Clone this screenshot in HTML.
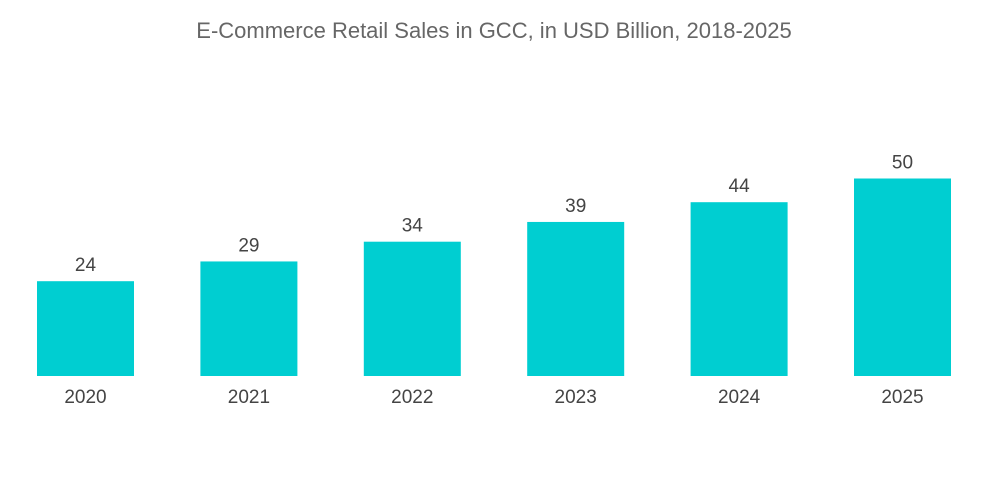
<!DOCTYPE html>
<html><head><meta charset="utf-8"><style>
body{margin:0;background:#fff;font-family:"Liberation Sans",sans-serif;}
svg{display:block}
</style></head><body>
<svg id="chart" width="1000" height="504">
<text x="494" y="38" text-anchor="middle" font-size="22" fill="#666">E-Commerce Retail Sales in GCC, in USD Billion, 2018-2025</text>
<g id="bars"></g>
</svg>
<script>
const categories=["2020","2021","2022","2023","2024","2025"];
const values=[24,29,34,39,44,50];
const valueLabels=["24","29","34","39","44","50"];
const baseY=376, scale=3.95, x0=37, step=163.4, bw=97;
function xPos(i){return x0+i*step;}
function yPos(v){return baseY-v*scale;}
const g=document.getElementById('bars');
const ns="http://www.w3.org/2000/svg";
categories.forEach((c,i)=>{
  const r=document.createElementNS(ns,'rect');
  r.setAttribute('x',xPos(i));r.setAttribute('y',yPos(values[i]));
  r.setAttribute('width',bw);r.setAttribute('height',baseY-yPos(values[i]));
  r.setAttribute('fill','#00ced1');
  
  
  g.appendChild(r);
  const t=document.createElementNS(ns,'text');
  t.setAttribute('x',xPos(i)+bw/2);t.setAttribute('y',yPos(values[i])-10);
  t.setAttribute('text-anchor','middle');t.setAttribute('font-size','19');t.setAttribute('fill','#444');
  t.textContent=valueLabels[i];
  
  
  g.appendChild(t);
  const l=document.createElementNS(ns,'text');
  l.setAttribute('x',xPos(i)+bw/2);l.setAttribute('y',baseY+27);
  l.setAttribute('text-anchor','middle');l.setAttribute('font-size','19');l.setAttribute('fill','#444');
  l.textContent=c;
  
  
  g.appendChild(l);
});
</script>
</body></html>
